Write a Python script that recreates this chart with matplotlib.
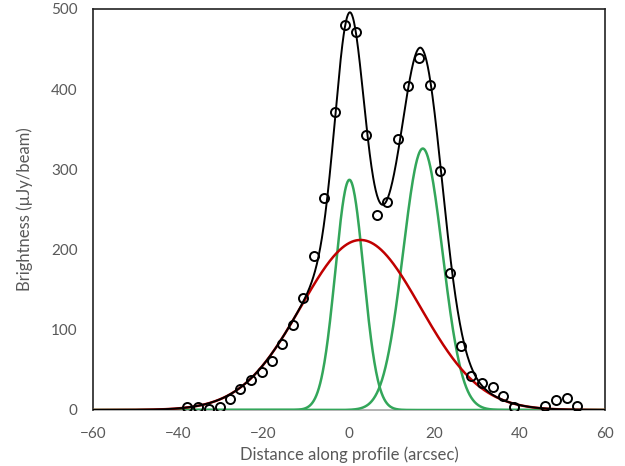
import numpy as np
import matplotlib
matplotlib.use("Agg")
import matplotlib.pyplot as plt

# Observed profile points
obs_x = [-38.0, -35.4, -32.8, -30.2, -27.9, -25.5, -23.0, -20.4, -18.0, -15.7,
         -13.1, -10.8, -8.2, -5.9, -3.3, -0.9, 1.6, 4.0, 6.6, 8.9,
         11.5, 13.8, 16.4, 19.0, 21.3, 23.7, 26.2, 28.6, 31.2, 33.7,
         36.1, 38.7, 45.9, 48.5, 51.1, 53.4]
obs_y = [4, 4, 1, 4, 14, 26, 37, 47, 61, 82,
         106, 140, 192, 264, 372, 480, 471, 343, 243, 259,
         338, 404, 439, 405, 298, 171, 80, 42, 34, 29,
         18, 4, 5, 12, 15, 5]

# Gaussian model components (amplitude, centre, sigma)
broad_comp = (212.0, 2.7, 14.0)
narrow_comps = [(287.0, 0.1, 3.3), (326.0, 17.3, 4.6)]

x_ticks = [-60, -40, -20, 0, 20, 40, 60]
y_ticks = [0, 100, 200, 300, 400, 500]


def gauss(x, a, c, s):
    return a * np.exp(-(x - c) ** 2 / (2 * s ** 2))


xx = np.linspace(-60, 60, 1200)
broad = gauss(xx, *broad_comp)
narrow = [gauss(xx, *p) for p in narrow_comps]
total = broad + sum(narrow)

plt.rcParams['font.family'] = ['Lato', 'DejaVu Sans']
fig = plt.figure(figsize=(6.25, 4.66), dpi=100)
ax = fig.add_axes([0.1488, 0.1202, 0.8192, 0.8605])

for n in narrow:
    ax.plot(xx, n, color='#33a65a', lw=1.8, zorder=3)
ax.plot(xx, broad, color='#c00000', lw=1.8, zorder=4)
ax.plot(xx, total, color='black', lw=1.4, zorder=5)
ax.plot(obs_x, obs_y, linestyle='none', marker='o', markersize=6.5,
        markerfacecolor='none', markeredgecolor='black', markeredgewidth=1.4, zorder=6)

ax.set_xlim(-60, 60)
ax.set_ylim(0, 500)
ax.set_xticks(x_ticks)
ax.set_yticks(y_ticks)
ax.tick_params(length=0, labelsize=11, colors='#595959')
ax.tick_params(axis='x', pad=12.5)
ax.tick_params(axis='y', pad=11)
for s in ['left', 'top', 'right']:
    ax.spines[s].set_color('#222222')
    ax.spines[s].set_linewidth(1.2)
ax.spines['bottom'].set_color('#a6a6a6')
ax.spines['bottom'].set_linewidth(1.2)
ax.spines['bottom'].set_zorder(1)

ax.set_xlabel('Distance along profile (arcsec)', fontsize=12, color='#595959', labelpad=4)
ax.set_ylabel('Brightness (µJy/beam)', fontsize=12, color='#595959', labelpad=13)

fig.savefig('out.png', dpi=100)
